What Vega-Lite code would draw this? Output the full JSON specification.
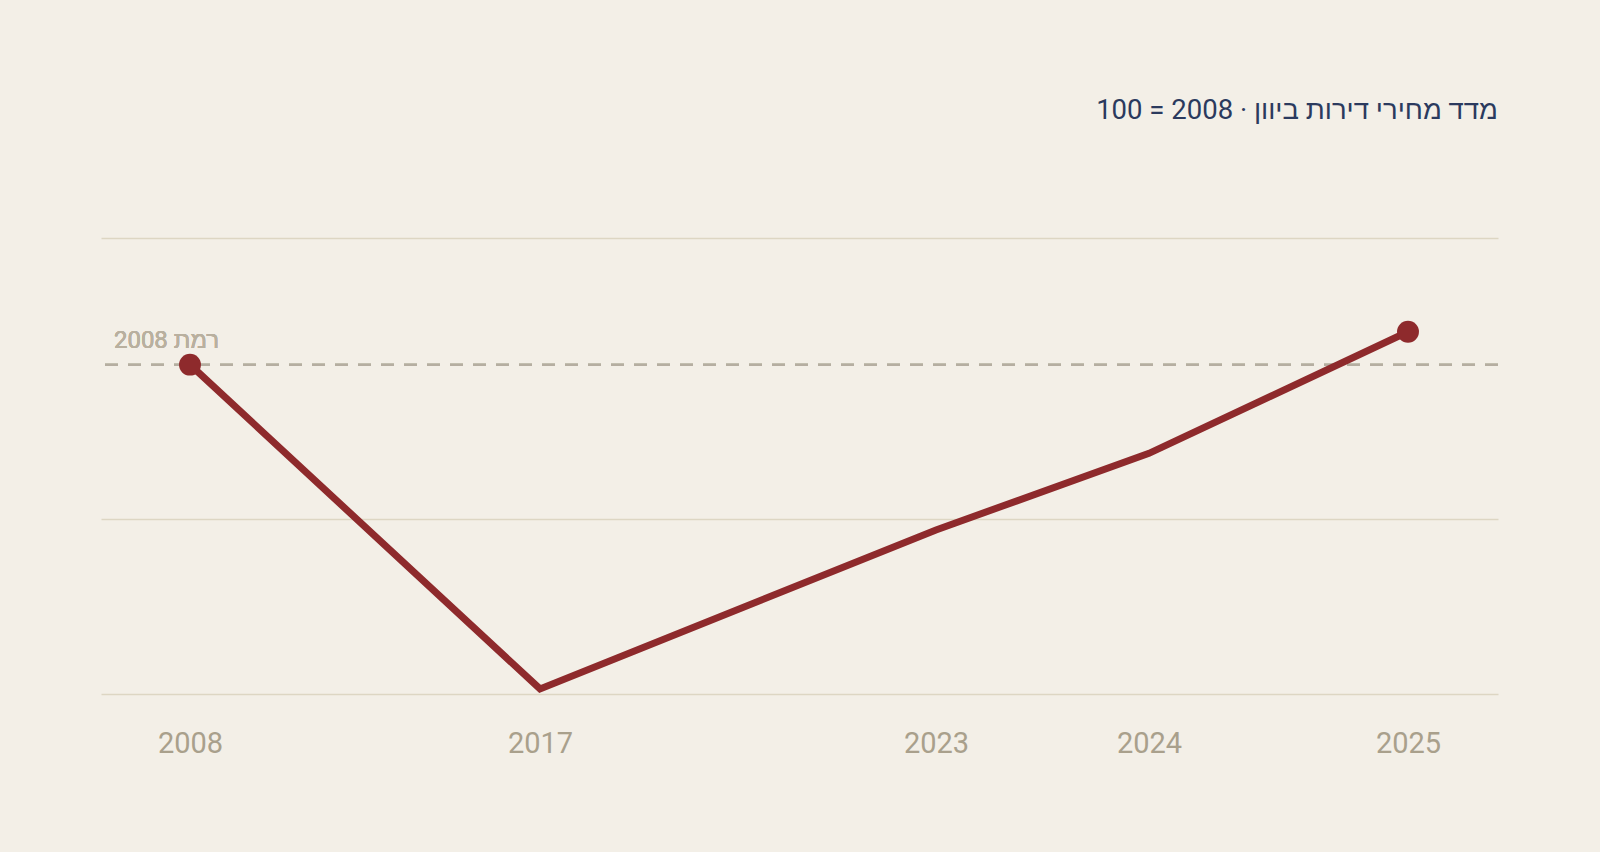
{
  "$schema": "https://vega.github.io/schema/vega-lite/v6.json",
  "autosize": "none",
  "padding": {"left": 101, "top": 238, "right": 102, "bottom": 158},
  "width": 1397,
  "height": 456,
  "background": "#F3EFE7",
  "title": {
    "text": "מדד מחירי דירות ביוון · 2008 = 100",
    "anchor": "end",
    "frame": "group",
    "offset": 114,
    "font": "Roboto, sans-serif",
    "fontSize": 27.5,
    "fontWeight": "normal",
    "color": "#2B3A5E"
  },
  "data": {
    "values": [
      {"year": 2008, "index": 100},
      {"year": 2017, "index": 48.8},
      {"year": 2023, "index": 73.9},
      {"year": 2024, "index": 86},
      {"year": 2025, "index": 105.2}
    ]
  },
  "encoding": {
    "x": {
      "field": "year",
      "type": "quantitative",
      "scale": {
        "domain": [2006, 2008, 2017, 2023, 2024, 2025, 2026],
        "range": [0, 89, 439, 835, 1048, 1307, 1397]
      },
      "axis": {
        "values": [2008, 2017, 2023, 2024, 2025],
        "format": "d",
        "title": null,
        "grid": false,
        "domain": false,
        "ticks": false,
        "labelPadding": 35,
        "labelFontSize": 29,
        "labelColor": "#A9A08C",
        "labelFont": "Roboto",
        "labelFlush": false
      }
    },
    "y": {
      "field": "index",
      "type": "quantitative",
      "scale": {"domain": [48, 120], "nice": false, "zero": false},
      "axis": {
        "values": [48, 75.6, 120],
        "labels": false,
        "ticks": false,
        "domain": false,
        "title": null,
        "gridColor": "#DDD6C3",
        "gridWidth": 1.5
      }
    }
  },
  "layer": [
    {
      "mark": {"type": "rule", "color": "#B5AEA1", "strokeWidth": 2, "strokeDash": [13, 10]},
      "encoding": {"y": {"datum": 100}, "x": null}
    },
    {
      "mark": {
        "type": "text",
        "text": "רמת 2008",
        "align": "right",
        "baseline": "alphabetic",
        "dx": 29,
        "dy": -17,
        "font": "Roboto, sans-serif",
        "fontSize": 24,
        "fontWeight": "normal",
        "color": "#B9B09F"
      },
      "encoding": {"x": {"datum": 2008}, "y": {"datum": 100}}
    },
    {
      "mark": {"type": "line", "color": "#8E2A2C", "strokeWidth": 7, "strokeJoin": "miter"}
    },
    {
      "transform": [{"filter": "datum.year == 2008 || datum.year == 2025"}],
      "mark": {"type": "circle", "color": "#8E2A2C", "size": 480, "opacity": 1}
    }
  ],
  "config": {
    "view": {"stroke": null}
  }
}
